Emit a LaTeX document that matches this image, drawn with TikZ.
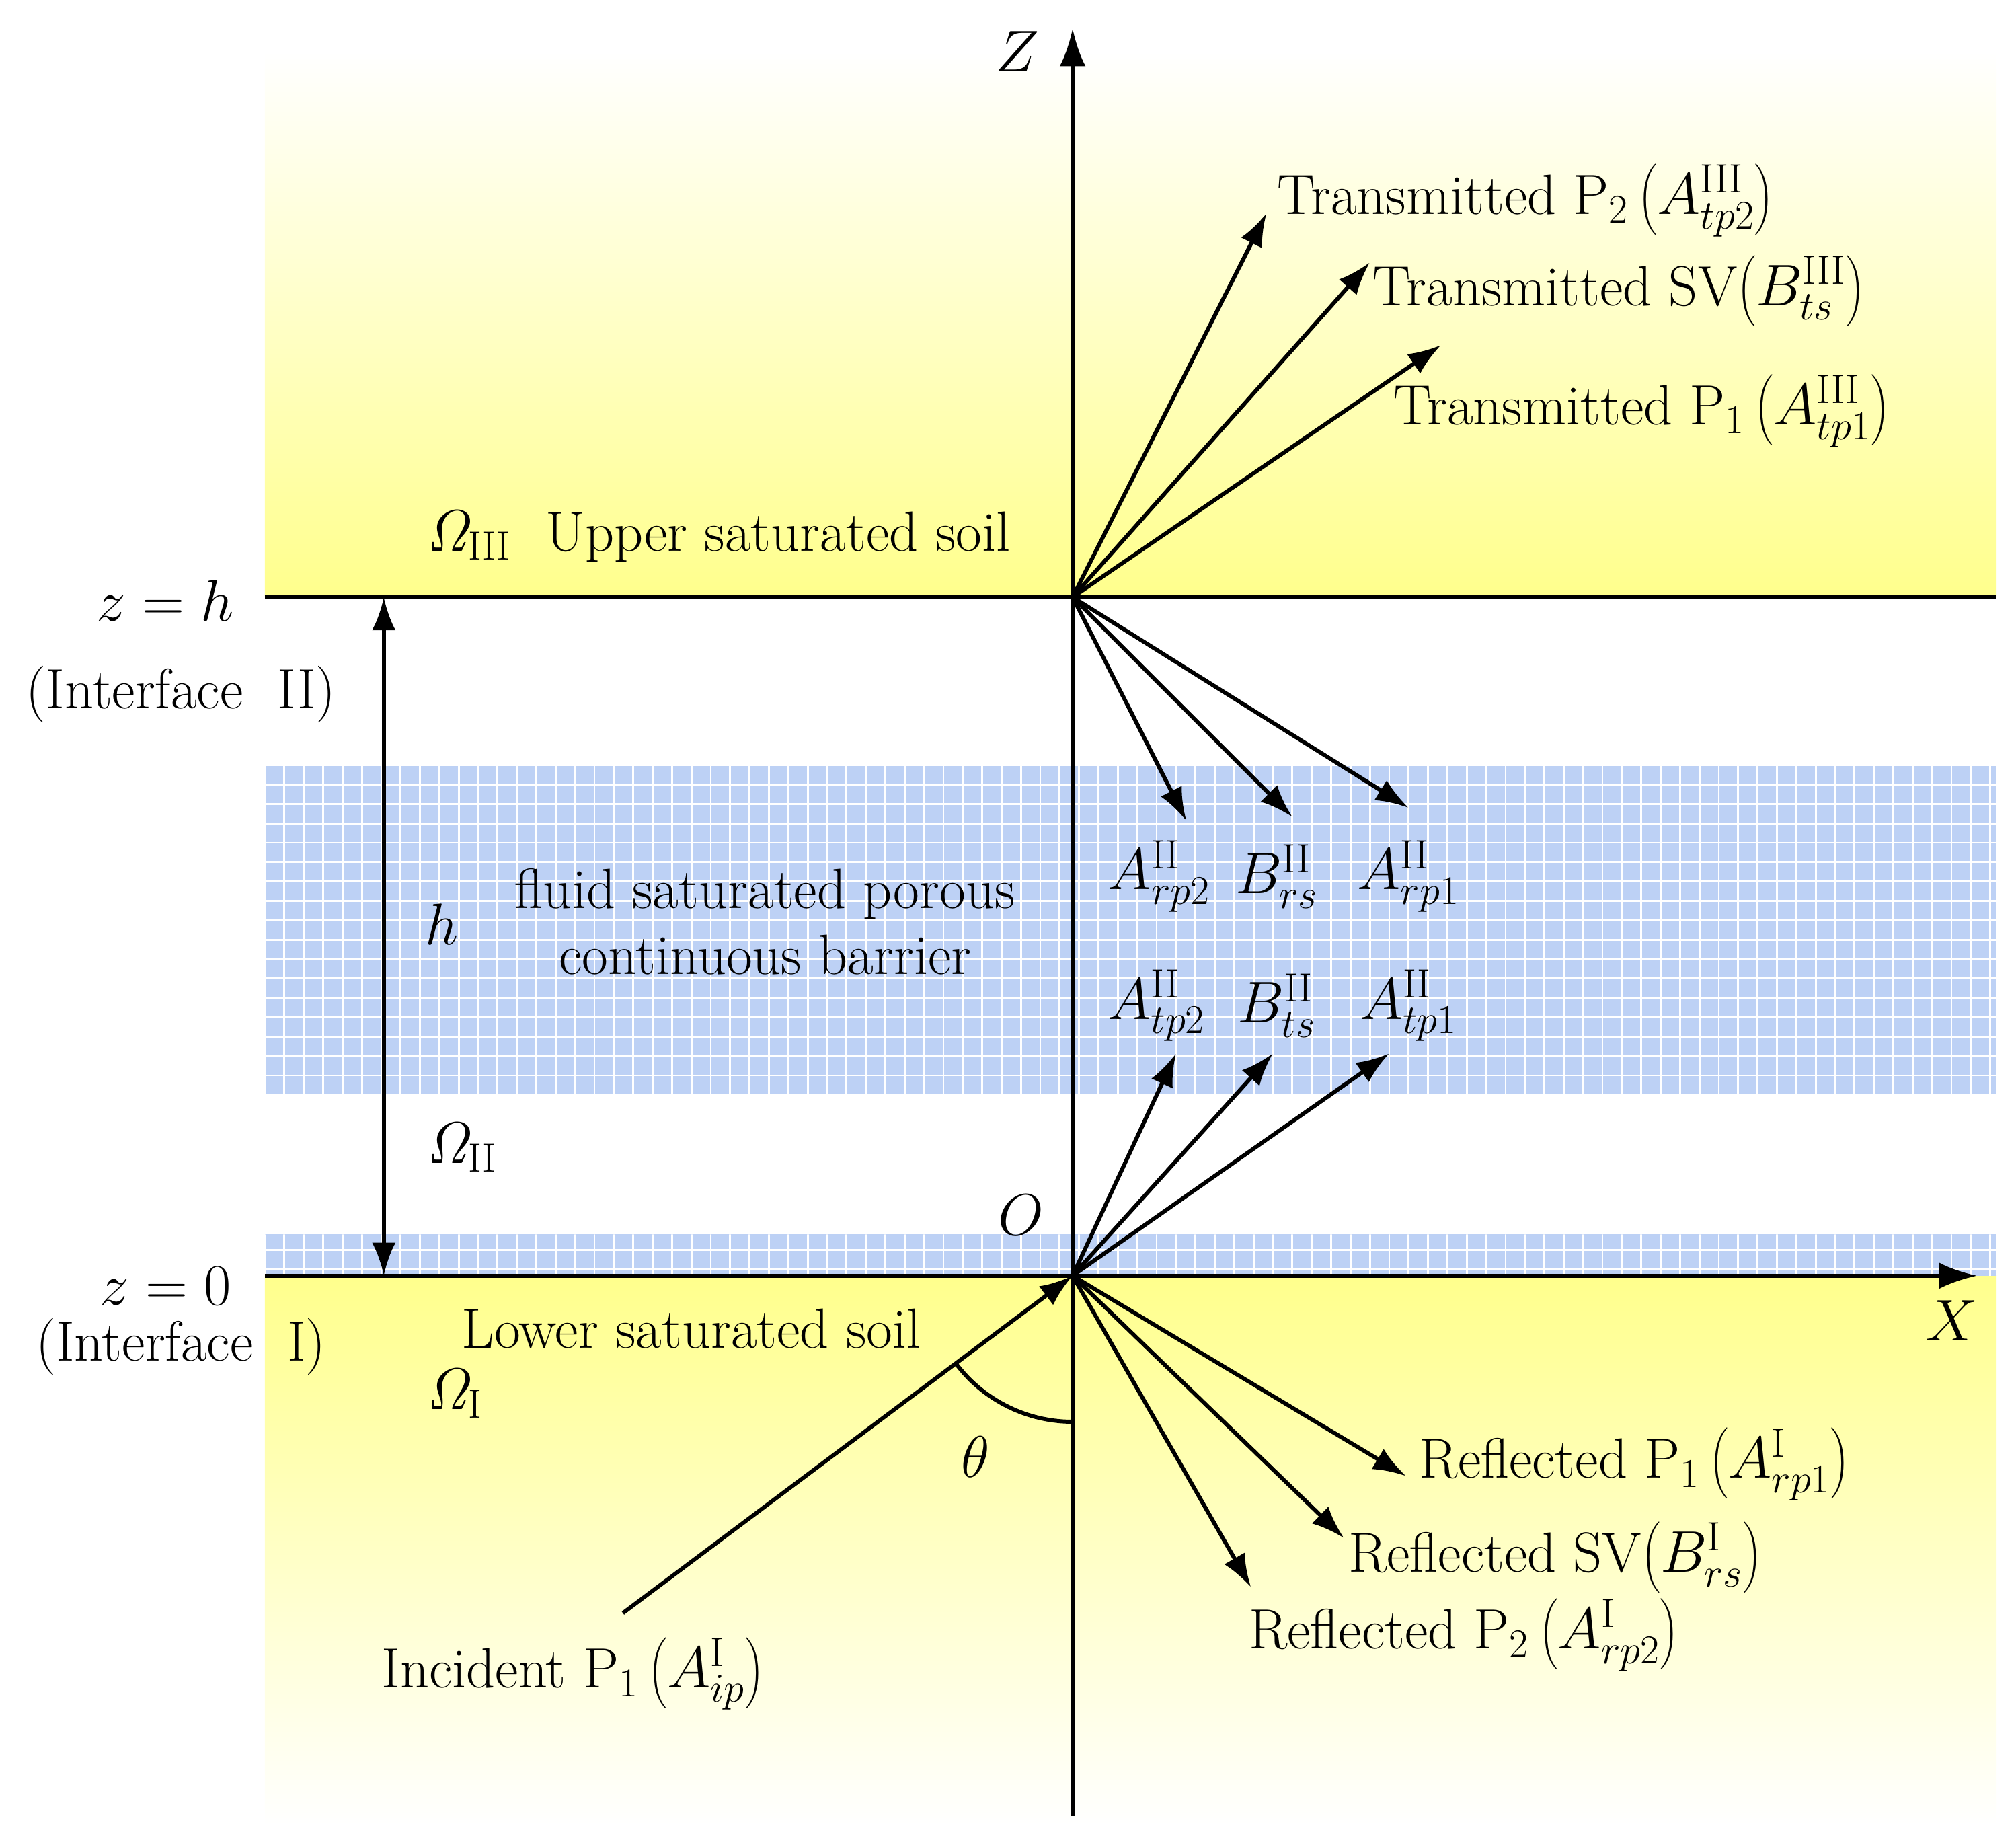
\documentclass[tikz,border=0pt]{standalone}
\usetikzlibrary{arrows.meta}
\begin{document}
\begin{tikzpicture}[x=0.01922cm,y=-0.01922cm,
 ln/.style={line width=1.7pt},
 ar/.style={line width=1.7pt,-{Latex[length=14pt,width=10pt]}},
 txt/.style={font=\fontsize{24}{28}\selectfont,inner sep=0pt},
 lab/.style={txt,anchor=west}]
\useasboundingbox (0,0) rectangle (1560,1412.6);
\definecolor{yel}{rgb}{1,1,0.55}
\definecolor{blu}{rgb}{0.74,0.82,0.96}
\shade[top color=white,bottom color=yel] (205,40) rectangle (1545,462);
\shade[top color=yel,bottom color=white] (205,987) rectangle (1545,1412);
\fill[blu] (205,592) rectangle (1545,848);
\fill[blu] (205,955) rectangle (1545,987);
\begin{scope}
\clip (205,592) rectangle (1545,848) (205,955) rectangle (1545,987);
\foreach \x in {205,220,...,1550} \draw[white,line width=0.8pt] (\x,580) -- (\x,1000);
\foreach \y in {592,607,...,1000} \draw[white,line width=0.8pt] (195,\y) -- (1560,\y);
\end{scope}
\coordinate (O) at (830,987);
\coordinate (T) at (830,462);
\coordinate (zb) at (830,1405);
\coordinate (zt) at (830,22);
\coordinate (xl) at (205,987);
\coordinate (xr) at (1530,987);
\coordinate (il) at (205,462);
\coordinate (ir) at (1545,462);
\coordinate (h1) at (297,462);
\coordinate (h2) at (297,987);
\coordinate (inc) at (482,1248);
\coordinate (tp2) at (980,165);
\coordinate (tsv) at (1060,203);
\coordinate (tp1) at (1115,267);
\coordinate (rp2b) at (918,635);
\coordinate (rsb) at (1000,632);
\coordinate (rp1b) at (1090,625);
\coordinate (tp2b) at (910,815);
\coordinate (tsb) at (985,815);
\coordinate (tp1b) at (1075,815);
\coordinate (rp1) at (1088,1142);
\coordinate (rsv) at (1040,1190);
\coordinate (rp2) at (968,1228);
\coordinate (arcs) at (830,1100);
\draw[ln,-{Latex[length=16pt,width=11pt]}] (zb) -- (zt);
\draw[ln,-{Latex[length=16pt,width=11pt]}] (xl) -- (xr);
\draw[ln] (il) -- (ir);
\draw[ln,{Latex[length=14pt,width=10pt]}-{Latex[length=14pt,width=10pt]}] (h1) -- (h2);
\foreach \e in {tp2,tsv,tp1,rp2b,rsb,rp1b} \draw[ar] (T) -- (\e);
\foreach \e in {tp2b,tsb,tp1b,rp1,rsv,rp2} \draw[ar] (O) -- (\e);
\draw[ar] (inc) -- (O);
\draw[ln] (arcs) arc[start angle=90,end angle=142.8,radius=113];
\node[txt] (Z) at (787,40) {\fontsize{32}{34}\selectfont$Z$};
\node[txt] (X) at (1510,1022) {\fontsize{32}{34}\selectfont$X$};
\node[txt] (Ol) at (790,940) {\fontsize{32}{34}\selectfont$O$};
\node[txt] (th) at (755,1127) {$\theta$};
\node[txt] (zh) at (128,465) {\fontsize{32}{34}\selectfont$z=h$};
\node[txt] (i2) at (140,537) {(Interface\ \ II)};
\node[txt] (z0) at (128,995) {\fontsize{32}{34}\selectfont$z=0$};
\node[txt] (i1) at (140,1042) {(Interface\ \ I)};
\node[txt] (hl) at (342,715) {\fontsize{32}{34}\selectfont$h$};
\node[lab] (o3) at (330,415) {$\mathit{\Omega}_{\mathrm{III}}$\ \ Upper saturated soil};
\node[lab] (o2) at (330,888) {$\mathit{\Omega}_{\mathrm{II}}$};
\node[lab] (o1) at (330,1078) {$\mathit{\Omega}_{\mathrm{I}}$};
\node[txt] (ls) at (535,1028) {Lower saturated soil};
\node[txt,align=center] (fb) at (592,713) {fluid saturated porous\\continuous barrier};
\node[lab] (l1) at (988,155) {Transmitted P$_2\left(\vphantom{\Big|}A^{\mathrm{III}}_{tp2}\right)$};
\node[lab] (l2) at (1062,225) {Transmitted SV$\left(\vphantom{\Big|}B^{\mathrm{III}}_{ts}\right)$};
\node[lab] (l3) at (1078,318) {Transmitted P$_1\left(\vphantom{\Big|}A^{\mathrm{III}}_{tp1}\right)$};
\node[lab] (l4) at (1098,1133) {Reflected P$_1\left(\vphantom{\Big|}A^{\mathrm{I}}_{rp1}\right)$};
\node[lab] (l5) at (1043,1205) {Reflected SV$\left(\vphantom{\Big|}B^{\mathrm{I}}_{rs}\right)$};
\node[lab] (l6) at (966,1265) {Reflected P$_2\left(\vphantom{\Big|}A^{\mathrm{I}}_{rp2}\right)$};
\node[lab] (l7) at (295,1295) {Incident P$_1\left(\vphantom{\Big|}A^{\mathrm{I}}_{ip}\right)$};
\node[txt] (a1) at (897,678) {$A^{\mathrm{II}}_{rp2}$};
\node[txt] (a2) at (988,678) {$B^{\mathrm{II}}_{rs}$};
\node[txt] (a3) at (1090,678) {$A^{\mathrm{II}}_{rp1}$};
\node[txt] (a4) at (895,778) {$A^{\mathrm{II}}_{tp2}$};
\node[txt] (a5) at (988,778) {$B^{\mathrm{II}}_{ts}$};
\node[txt] (a6) at (1090,778) {$A^{\mathrm{II}}_{tp1}$};
\end{tikzpicture}
\end{document}
